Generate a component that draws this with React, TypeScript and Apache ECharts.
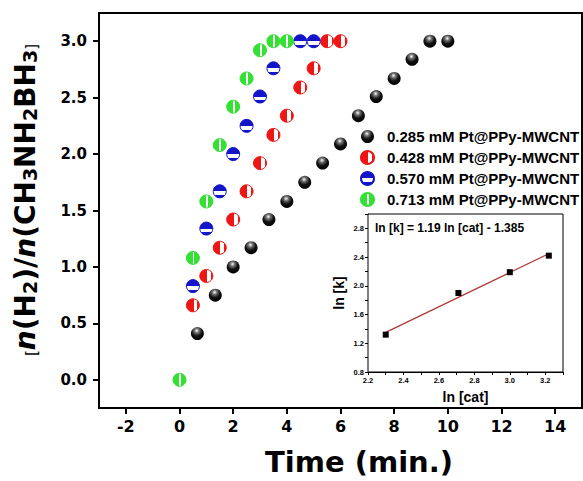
import React, { useEffect, useRef } from 'react';
import * as echarts from 'echarts';

const seriesNames = [
  '0.285 mM Pt@PPy-MWCNT',
  '0.428 mM Pt@PPy-MWCNT',
  '0.570 mM Pt@PPy-MWCNT',
  '0.713 mM Pt@PPy-MWCNT',
];

const blackX = [0.667, 1.333, 2, 2.667, 3.333, 4, 4.667, 5.333, 6, 6.667, 7.333, 8, 8.667, 9.333, 10];
const blackY = [0.41, 0.75, 1.0, 1.17, 1.42, 1.58, 1.75, 1.92, 2.09, 2.34, 2.51, 2.67, 2.84, 3.0, 3.0];
const redX = [0.5, 1, 1.5, 2, 2.5, 3, 3.5, 4, 4.5, 5, 5.5, 6];
const redY = [0.66, 0.92, 1.17, 1.42, 1.67, 1.92, 2.17, 2.34, 2.59, 2.76, 3.0, 3.0];
const blueX = [0.5, 1, 1.5, 2, 2.5, 3, 3.5, 4.5, 5];
const blueY = [0.83, 1.34, 1.67, 2.0, 2.25, 2.51, 2.76, 3.0, 3.0];
const greenX = [0, 0.5, 1, 1.5, 2, 2.5, 3, 3.5, 4];
const greenY = [0, 1.08, 1.58, 2.08, 2.42, 2.67, 2.92, 3.0, 3.0];

const xTickLabels = [-2, 0, 2, 4, 6, 8, 10, 12, 14];
const yTickLabels = [0, 0.5, 1, 1.5, 2, 2.5, 3];

// inset
const lnCat = [2.3, 2.71, 3.0, 3.22];
const lnK = [1.32, 1.9, 2.19, 2.42];
const fitX = [2.3, 3.22];
const fitY = [1.352, 2.447];
const insetXLabels = [2.2, 2.4, 2.6, 2.8, 3.0, 3.2];
const insetXTicks = [2.2, 2.3, 2.4, 2.5, 2.6, 2.7, 2.8, 2.9, 3.0, 3.1, 3.2, 3.3];
const insetYLabels = [0.8, 1.2, 1.6, 2.0, 2.4, 2.8];
const insetYTicks = [0.8, 1.0, 1.2, 1.4, 1.6, 1.8, 2.0, 2.2, 2.4, 2.6, 2.8, 3.0];
const equationText = 'ln [k] = 1.19 ln [cat] - 1.385';

const pair = (xs: number[], ys: number[]) => xs.map((x, i) => [x, ys[i]]);

export default function App() {
  const ref = useRef<HTMLDivElement>(null);
  useEffect(() => {
    if (!ref.current) return;
    const chart = echarts.init(ref.current, undefined, { renderer: 'svg' });
    const G = echarts.graphic;
    const blackFill = new G.RadialGradient(0.45, 0.28, 0.75, [
      { offset: 0, color: '#ffffff' },
      { offset: 0.22, color: '#777777' },
      { offset: 0.55, color: '#111111' },
      { offset: 1, color: '#000000' },
    ]);
    const redFill = new G.LinearGradient(0, 0, 1, 0, [
      { offset: 0, color: '#ee1515' },
      { offset: 0.55, color: '#ee1515' },
      { offset: 0.55, color: '#ffffff' },
      { offset: 0.85, color: '#ffffff' },
      { offset: 0.85, color: '#ee1515' },
      { offset: 1, color: '#ee1515' },
    ]);
    const blueFill = new G.LinearGradient(0, 0, 0, 1, [
      { offset: 0, color: '#1414c8' },
      { offset: 0.5, color: '#1414c8' },
      { offset: 0.5, color: '#ffffff' },
      { offset: 0.8, color: '#ffffff' },
      { offset: 0.8, color: '#1414c8' },
      { offset: 1, color: '#1414c8' },
    ]);
    const greenFill = new G.LinearGradient(0, 0, 1, 0, [
      { offset: 0, color: '#33e033' },
      { offset: 0.47, color: '#33e033' },
      { offset: 0.47, color: '#ffffff' },
      { offset: 0.62, color: '#ffffff' },
      { offset: 0.62, color: '#33e033' },
      { offset: 1, color: '#33e033' },
    ]);
    const mainFont = 'DejaVu Sans';
    const armFont = '"Liberation Sans", Arial, sans-serif';
    const sym = 13;

    const option: any = {
      animation: false,
      backgroundColor: '#ffffff',
      grid: [
        { left: 99, top: 13, width: 483, height: 395, show: true, borderColor: '#000', borderWidth: 2 },
        { left: 368, top: 214, width: 195, height: 158, show: true, borderColor: '#000', borderWidth: 1, backgroundColor: '#fff', z: 5 },
      ],
      xAxis: [
        {
          type: 'value', gridIndex: 0, min: -3, max: 15,
          splitLine: { show: false },
          axisLine: { show: true, onZero: false, lineStyle: { color: '#000', width: 2 } },
          axisTick: { show: true, length: 6, lineStyle: { color: '#000', width: 2 }, customValues: xTickLabels },
          axisLabel: { customValues: xTickLabels, margin: 10, color: '#000', fontFamily: mainFont, fontWeight: 'bold', fontSize: 16 },
        },
        {
          type: 'value', gridIndex: 1, min: 2.2, max: 3.3,
          name: 'ln [cat]', nameLocation: 'middle', nameGap: 18,
          nameTextStyle: { fontFamily: armFont, fontWeight: 'bold', fontSize: 14, color: '#000' },
          splitLine: { show: false },
          axisLine: { show: true, onZero: false, lineStyle: { color: '#000', width: 1 } },
          axisTick: { show: true, length: 3, lineStyle: { color: '#000' }, customValues: insetXTicks },
          axisLabel: { customValues: insetXLabels, margin: 4, color: '#000', fontFamily: armFont, fontWeight: 'bold', fontSize: 7.5, formatter: (v: number) => v.toFixed(1) },
        },
      ],
      yAxis: [
        {
          type: 'value', gridIndex: 0, min: -0.25, max: 3.25,
          splitLine: { show: false },
          axisLine: { show: true, onZero: false, lineStyle: { color: '#000', width: 2 } },
          axisTick: { show: true, length: 6, lineStyle: { color: '#000', width: 2 }, customValues: yTickLabels },
          axisLabel: { customValues: yTickLabels, margin: 12, color: '#000', fontFamily: mainFont, fontWeight: 'bold', fontSize: 15, formatter: (v: number) => v.toFixed(1) },
        },
        {
          type: 'value', gridIndex: 1, min: 0.8, max: 3.0,
          name: 'ln [k]', nameLocation: 'middle', nameGap: 22, nameRotate: 90,
          nameTextStyle: { fontFamily: armFont, fontWeight: 'bold', fontSize: 14, color: '#000' },
          splitLine: { show: false },
          axisLine: { show: true, onZero: false, lineStyle: { color: '#000', width: 1 } },
          axisTick: { show: true, length: 3, lineStyle: { color: '#000' }, customValues: insetYTicks },
          axisLabel: { customValues: insetYLabels, margin: 4, color: '#000', fontFamily: armFont, fontWeight: 'bold', fontSize: 7.5, formatter: (v: number) => v.toFixed(1) },
        },
      ],
      legend: {
        data: seriesNames,
        orient: 'vertical',
        left: 355,
        top: 124,
        icon: 'circle',
        itemWidth: 13,
        itemHeight: 13,
        itemGap: 6,
        textStyle: { fontFamily: armFont, fontWeight: 'bold', fontSize: 15, color: '#000', padding: [0, 0, 0, 8] },
      },
      series: [
        { name: seriesNames[0], type: 'scatter', xAxisIndex: 0, yAxisIndex: 0, symbolSize: sym, data: pair(blackX, blackY), itemStyle: { color: blackFill, opacity: 1 } },
        { name: seriesNames[1], type: 'scatter', xAxisIndex: 0, yAxisIndex: 0, symbolSize: sym, data: pair(redX, redY), itemStyle: { color: redFill, borderColor: '#ee1515', borderWidth: 1, opacity: 1 } },
        { name: seriesNames[2], type: 'scatter', xAxisIndex: 0, yAxisIndex: 0, symbolSize: sym, data: pair(blueX, blueY), itemStyle: { color: blueFill, borderColor: '#1414c8', borderWidth: 1, opacity: 1 } },
        { name: seriesNames[3], type: 'scatter', xAxisIndex: 0, yAxisIndex: 0, symbolSize: sym, data: pair(greenX, greenY), itemStyle: { color: greenFill, borderColor: '#33e033', borderWidth: 1, opacity: 1 } },
        { name: 'fit', type: 'line', xAxisIndex: 1, yAxisIndex: 1, data: pair(fitX, fitY), symbol: 'none', z: 6, lineStyle: { color: '#b03a3a', width: 1.3 } },
        { name: 'lnk', type: 'scatter', xAxisIndex: 1, yAxisIndex: 1, data: pair(lnCat, lnK), symbol: 'rect', symbolSize: 6, z: 7, itemStyle: { color: '#000', opacity: 1 } },
      ],
      graphic: [
        {
          type: 'text', x: 24, y: 200, rotation: Math.PI / 2, z: 10,
          style: {
            text: '{b|[}{i|n}{r|(H}{s|2}{r|)/}{i|n}{r|(CH}{s|3}{r|NH}{s|2}{r|BH}{s|3}{b|]}',
            align: 'center', verticalAlign: 'middle',
            rich: {
              b: { fontFamily: mainFont, fontSize: 15, fill: '#000', lineHeight: 30, verticalAlign: 'bottom' },
              i: { fontFamily: mainFont, fontSize: 28, fontWeight: 'bold', fontStyle: 'italic', fill: '#000', lineHeight: 30, verticalAlign: 'bottom' },
              r: { fontFamily: mainFont, fontSize: 28, fontWeight: 'bold', fill: '#000', lineHeight: 30, verticalAlign: 'bottom' },
              s: { fontFamily: mainFont, fontSize: 19, fontWeight: 'bold', fill: '#000', lineHeight: 17, verticalAlign: 'bottom' },
            },
          },
        },
        {
          type: 'text', x: 359, y: 462, z: 10,
          style: { text: 'Time (min.)', fontFamily: mainFont, fontWeight: 'bold', fontSize: 29, fill: '#000', align: 'center', verticalAlign: 'middle' },
        },
        {
          type: 'text', x: 375, y: 228, z: 10,
          style: { text: equationText, fontFamily: armFont, fontWeight: 'bold', fontSize: 12, fill: '#000', align: 'left', verticalAlign: 'middle' },
        },
      ],
    };
    chart.setOption(option);
    return () => chart.dispose();
  }, []);
  return <div ref={ref} style={{ position: 'absolute', left: 0, top: 0, width: 583, height: 481 }} />;
}
